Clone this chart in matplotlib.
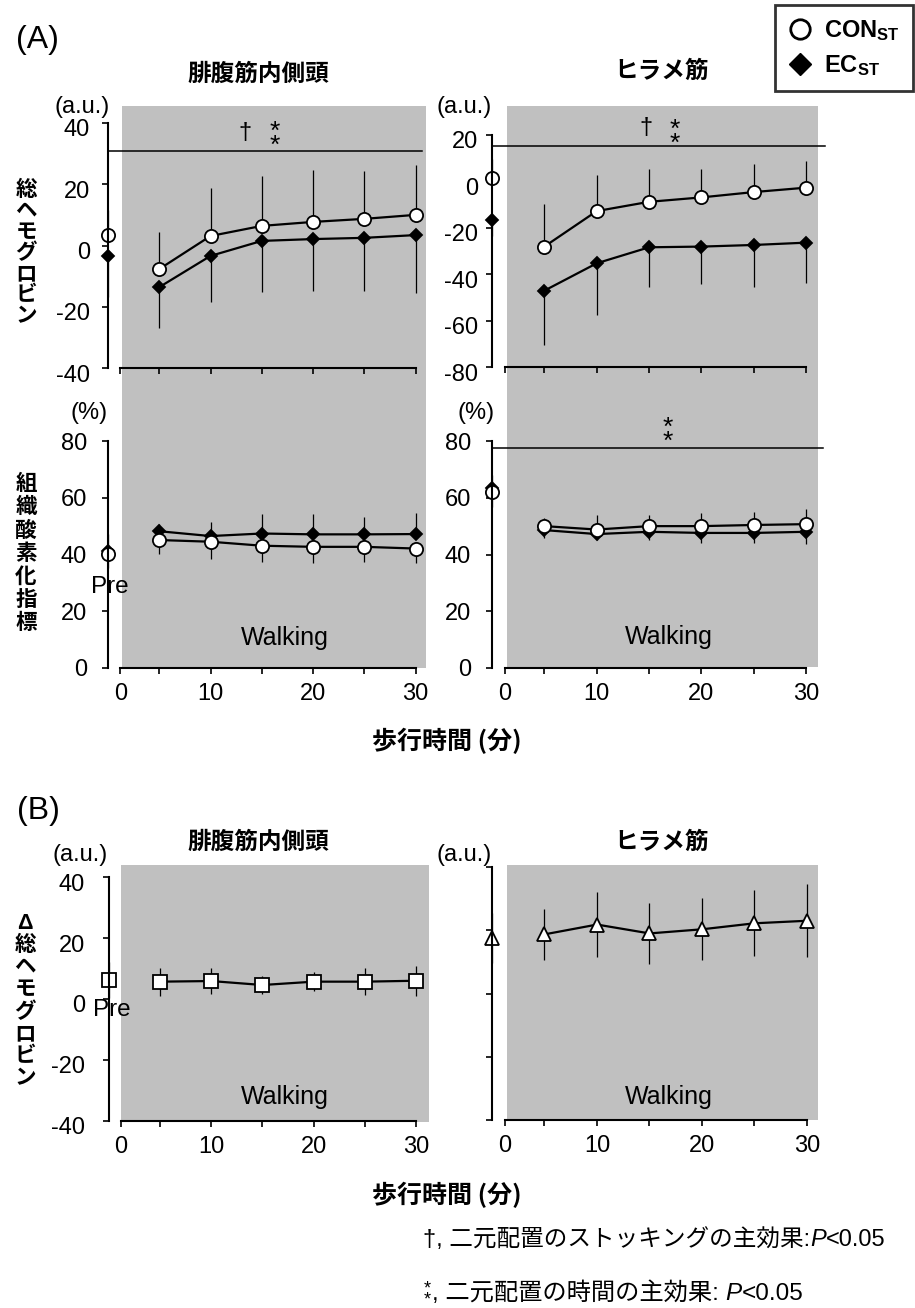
import numpy as np
import matplotlib
matplotlib.use('Agg')
import matplotlib.pyplot as plt
from matplotlib.patches import Rectangle
from matplotlib.lines import Line2D
import matplotlib.transforms as mtransforms

plt.rcParams['font.family'] = ['Liberation Sans', 'Noto Sans CJK JP', 'DejaVu Sans']
plt.rcParams['mathtext.fontset'] = 'custom'
plt.rcParams['mathtext.rm'] = 'Liberation Sans'
plt.rcParams['mathtext.bf'] = 'Liberation Sans:bold'
plt.rcParams['mathtext.it'] = 'Liberation Sans:italic'
plt.rcParams['axes.unicode_minus'] = False

# ---------------- data ----------------
times = [5, 10, 15, 20, 25, 30]
x_label_times = [10, 20, 30]
muscles = ['腓腹筋内側頭', 'ヒラメ筋']
groups = ['CON', 'EC']

# (A) total hemoglobin (a.u.) - gastrocnemius medialis
thb_gm_con_pre, thb_gm_con_pre_sd = 3.4, 8.2
thb_gm_ec_pre, thb_gm_ec_pre_sd = -3.4, 13.4
thb_gm_con = [-7.7, 3.1, 6.4, 7.7, 8.7, 10.0]
thb_gm_con_sd = [12.1, 15.7, 16.3, 17.0, 15.6, 16.3]
thb_gm_ec = [-13.6, -3.4, 1.5, 2.1, 2.5, 3.4]
thb_gm_ec_sd = [13.4, 15.1, 16.7, 17.0, 17.4, 18.9]

# (A) total hemoglobin (a.u.) - soleus
thb_sol_con_pre, thb_sol_con_pre_sd = 1.6, 8.0
thb_sol_ec_pre, thb_sol_ec_pre_sd = -16.6, 7.0
thb_sol_con = [-28.1, -12.8, -8.8, -6.9, -4.6, -2.7]
thb_sol_con_sd = [18.4, 15.6, 14.0, 12.1, 12.0, 11.5]
thb_sol_ec = [-47.1, -35.3, -28.4, -28.1, -27.4, -26.4]
thb_sol_ec_sd = [23.4, 22.3, 17.2, 16.1, 18.0, 17.5]

# (A) tissue oxygenation index (%) - gastrocnemius medialis
toi_gm_con_pre, toi_gm_con_pre_sd = 40.1, 5.0
toi_gm_ec_pre, toi_gm_ec_pre_sd = 41.2, 6.0
toi_gm_con = [45.1, 44.5, 43.1, 42.7, 42.7, 42.1]
toi_gm_con_sd = [5.0, 6.1, 5.7, 5.6, 5.3, 5.0]
toi_gm_ec = [48.2, 46.5, 47.4, 47.1, 47.1, 47.2]
toi_gm_ec_sd = [2.5, 4.8, 7.0, 7.0, 6.2, 7.3]

# (A) tissue oxygenation index (%) - soleus
toi_sol_con_pre, toi_sol_con_pre_sd = 62.1, 6.0
toi_sol_ec_pre, toi_sol_ec_pre_sd = 63.3, 6.4
toi_sol_con = [50.0, 48.8, 50.0, 50.0, 50.4, 50.7]
toi_sol_con_sd = [2.7, 5.0, 3.9, 4.5, 4.6, 5.2]
toi_sol_ec = [48.6, 47.2, 48.0, 47.6, 47.6, 48.0]
toi_sol_ec_sd = [2.9, 2.1, 2.9, 3.7, 3.7, 4.3]

# (B) delta total hemoglobin (a.u.)
dthb_gm_pre, dthb_gm_pre_sd = 6.2, 6.0
dthb_gm = [5.7, 5.9, 4.6, 5.7, 5.7, 6.0]
dthb_gm_sd = [4.6, 4.2, 3.0, 3.2, 4.4, 5.0]
dthb_sol_pre, dthb_sol_pre_sd = 17.5, 7.9
dthb_sol = [18.7, 21.8, 19.0, 20.3, 22.2, 23.0]
dthb_sol_sd = [8.0, 10.2, 9.7, 9.8, 10.5, 11.6]

# significance bar levels
sig_thb_gm = 30.9
sig_thb_sol = 15.3
sig_toi_sol = 77.4

# axis ticks
yt_thb_gm = [-40, -20, 0, 20, 40]
yt_thb_sol = [-80, -60, -40, -20, 0, 20]
yt_toi = [0, 20, 40, 60, 80]
yt_dthb = [-40, -20, 0, 20, 40]

# ---------------- layout ----------------
W, H = 915, 1308
fig = plt.figure(figsize=(W / 100, H / 100), dpi=100)

def fx(px):
    return px / W

def fy(py):
    return 1 - py / H

XLIM = (-3.0, 33.0)
PRE_X = 0.0
WALK0 = 1.2
TICK_FS = 17
GRAY = '#c0c0c0'
CJK = ['Noto Sans CJK JP', 'DejaVu Sans']

def make_ax(x0, xs, ylim, yticks, py_bottom, py_top, ylabels=True, xlabels=True,
            ypad=7, ylab_shift=0):
    left = x0 + XLIM[0] * xs
    width = (XLIM[1] - XLIM[0]) * xs
    ax = fig.add_axes([fx(left), fy(py_bottom), width / W, (py_bottom - py_top) / H])
    ax.set_xlim(*XLIM)
    ax.set_ylim(*ylim)
    ax.patch.set_visible(False)
    for s in ('top', 'right'):
        ax.spines[s].set_visible(False)
    ax.spines['left'].set_position(('data', PRE_X))
    ax.spines['bottom'].set_bounds(WALK0, times[-1])
    for s in ('left', 'bottom'):
        ax.spines[s].set_linewidth(1.5)
    ax.set_yticks(yticks, labels=[str(v) for v in yticks] if ylabels else [])
    xt = [WALK0] + times
    if xlabels:
        xl = ['0'] + [str(t) if t in x_label_times else '' for t in times]
    else:
        xl = [''] * len(xt)
    ax.set_xticks(xt, labels=xl)
    ax.tick_params(axis='both', direction='out', length=4, width=1.2,
                   labelsize=TICK_FS, colors='black')
    ax.tick_params(axis='y', pad=ypad)
    ax.tick_params(axis='x', pad=7)
    if ylab_shift:
        off = mtransforms.ScaledTranslation(0, -ylab_shift / 100, fig.dpi_scale_trans)
        for lab in ax.get_yticklabels():
            lab.set_transform(lab.get_transform() + off)
    return ax

def gray(ax, x_a, x_b, py_top, py_bottom):
    tr = mtransforms.blended_transform_factory(ax.transData, fig.transFigure)
    r = Rectangle((x_a, fy(py_bottom)), x_b - x_a, (py_bottom - py_top) / H,
                  transform=tr, facecolor=GRAY, edgecolor='none', zorder=-5)
    fig.add_artist(r)

def series(ax, x, y, sd, up, marker, ms, face, line=True):
    z = np.zeros(len(sd))
    err = [z, sd] if up else [sd, z]
    ax.errorbar(x, y, yerr=err, fmt=marker + ('-' if line else ''), ms=ms,
                mfc=face, mec='black', mew=1.3, color='black', lw=1.6,
                ecolor='black', elinewidth=0.9, capsize=0, clip_on=False)

def con(ax, pre, pre_sd, vals, sds, up):
    series(ax, [PRE_X], [pre], [pre_sd], up, 'o', 9.5, 'white', line=False)
    series(ax, times, vals, sds, up, 'o', 9.5, 'white')

def ec(ax, pre, pre_sd, vals, sds, up):
    series(ax, [PRE_X], [pre], [pre_sd], up, 'D', 6.5, 'black', line=False)
    series(ax, times, vals, sds, up, 'D', 6.5, 'black')

def sig_line(ax, level, x_end):
    ax.plot([PRE_X, x_end], [level, level], color='black', lw=1.1, clip_on=False)

def ftext(xpx, ypx, s, **kw):
    return fig.text(fx(xpx), fy(ypx), s, **kw)

def stars_px(xpx, ymid_px, fs=19, ls=0.5):
    # two stacked asterisks, centred on ymid_px
    em = fs * 100 / 72
    ftext(xpx, ymid_px + 0.3 * em, '*\n*', fontsize=fs, ha='center', va='center',
          linespacing=ls)

# column geometry
L_X0, L_XS = 108, 10.25
R_X0, R_XS = 492, 10.47

# ---- (A) total Hb
ax1 = make_ax(L_X0, L_XS, (-40, 40), yt_thb_gm, 368, 123, xlabels=False,
              ypad=9, ylab_shift=5)
ax2 = make_ax(R_X0, R_XS, (-80, 20), yt_thb_sol, 367, 135, xlabels=False,
              ypad=6, ylab_shift=5)
# ---- (A) TOI
ax3 = make_ax(L_X0, L_XS, (0, 80), yt_toi, 668, 441, ypad=11)
ax4 = make_ax(R_X0, R_XS, (0, 80), yt_toi, 668, 441, ypad=11)
# ---- (B)
ax5 = make_ax(L_X0 + 0.7, L_XS, (-40, 40), yt_dthb, 1120.7, 877.3, ypad=13,
              ylab_shift=5)
ax6 = make_ax(R_X0, 10.5, (-40, 40), yt_dthb, 1120, 867, ylabels=False)

gray(ax1, 1.4, 31.0, 106, 668)
gray(ax2, 1.45, 31.1, 106, 667)
gray(ax5, 1.2, 31.2, 865, 1122)
gray(ax6, 1.45, 31.0, 865, 1120)

ec(ax1, thb_gm_ec_pre, thb_gm_ec_pre_sd, thb_gm_ec, thb_gm_ec_sd, up=False)
con(ax1, thb_gm_con_pre, thb_gm_con_pre_sd, thb_gm_con, thb_gm_con_sd, up=True)
sig_line(ax1, sig_thb_gm, 30.6)

ec(ax2, thb_sol_ec_pre, thb_sol_ec_pre_sd, thb_sol_ec, thb_sol_ec_sd, up=False)
con(ax2, thb_sol_con_pre, thb_sol_con_pre_sd, thb_sol_con, thb_sol_con_sd, up=True)
sig_line(ax2, sig_thb_sol, 31.8)

ec(ax3, toi_gm_ec_pre, toi_gm_ec_pre_sd, toi_gm_ec, toi_gm_ec_sd, up=True)
con(ax3, toi_gm_con_pre, toi_gm_con_pre_sd, toi_gm_con, toi_gm_con_sd, up=False)

ec(ax4, toi_sol_ec_pre, toi_sol_ec_pre_sd, toi_sol_ec, toi_sol_ec_sd, up=False)
con(ax4, toi_sol_con_pre, toi_sol_con_pre_sd, toi_sol_con, toi_sol_con_sd, up=True)
sig_line(ax4, sig_toi_sol, 31.6)

for ax, pre, pre_sd, vals, sds, mk, ms in (
        (ax5, dthb_gm_pre, dthb_gm_pre_sd, dthb_gm, dthb_gm_sd, 's', 9.5),
        (ax6, dthb_sol_pre, dthb_sol_pre_sd, dthb_sol, dthb_sol_sd, '^', 10.5)):
    ax.errorbar([PRE_X], [pre], yerr=[pre_sd], fmt=mk, ms=ms, mfc='white', mec='black',
                mew=1.3, ecolor='black', elinewidth=0.9, capsize=0, clip_on=False)
    ax.errorbar(times, vals, yerr=sds, fmt=mk + '-', ms=ms, mfc='white', mec='black',
                mew=1.3, color='black', lw=1.6, ecolor='black', elinewidth=0.9,
                capsize=0, clip_on=False)

# significance marks
ftext(245, 133, '†', fontsize=17, ha='center', va='center')
stars_px(275, 131)
ftext(646, 128, '†', fontsize=17, ha='center', va='center')
stars_px(675, 129)
stars_px(668, 427)

# ---------------- texts ----------------
ftext(37, 40, '(A)', fontsize=23, ha='center', va='center')
ftext(38, 811, '(B)', fontsize=23, ha='center', va='center')

for ypx in (74, 842):
    ftext(258, ypx, muscles[0], fontsize=17, fontweight='bold', family=CJK,
          ha='center', va='center')
    ftext(662, ypx - 3 if ypx == 74 else ypx, muscles[1], fontsize=17, fontweight='bold',
          family=CJK, ha='center', va='center')

for xpx, ypx, s in ((82, 107, '(a.u.)'), (464, 107, '(a.u.)'),
                    (89, 413, '(%)'), (476, 413, '(%)'),
                    (80, 855, '(a.u.)'), (464, 855, '(a.u.)')):
    ftext(xpx, ypx, s, fontsize=17, ha='center', va='center')

ftext(26, 253, '\n'.join('総ヘモグロビン'), fontsize=15.5, fontweight='bold', family=CJK,
      ha='center', va='center', linespacing=1.0)
ftext(26, 553, '\n'.join('組織酸素化指標'), fontsize=15.5, fontweight='bold', family=CJK,
      ha='center', va='center', linespacing=1.12)
ftext(25, 1001, '\n'.join('Δ総ヘモグロビン'), fontsize=15.5, fontweight='bold',
      family=['Liberation Sans', 'Noto Sans CJK JP'], ha='center', va='center',
      linespacing=1.08)

for xpx, ypx in ((285, 638), (669, 637), (285, 1097), (669, 1097)):
    ftext(xpx, ypx, 'Walking', fontsize=18, ha='center', va='center')
ftext(110, 587, 'Pre', fontsize=17.5, ha='center', va='center')
ftext(112, 1010, 'Pre', fontsize=17.5, ha='center', va='center')

for ypx in (741, 1195):
    ftext(447, ypx, '歩行時間 (分)', fontsize=18, fontweight='bold', family=CJK,
          ha='center', va='center')

# legend
handles = [Line2D([], [], marker='o', ms=14, mfc='white', mec='black', mew=2, ls='none'),
           Line2D([], [], marker='D', ms=11, color='black', ls='none')]
labels = [r'$\mathbf{CON_{ST}}$', r'$\mathbf{EC_{ST}}$']
leg = fig.legend(handles, labels, loc='upper right', bbox_to_anchor=(fx(913), fy(5)),
                 frameon=True, fancybox=False, edgecolor='black', fontsize=17,
                 handlelength=1.0, handletextpad=0.55, borderpad=0.55, labelspacing=0.45,
                 borderaxespad=0)
leg.get_frame().set_linewidth(2)

# footnotes
renderer = fig.canvas.get_renderer()

def chain(x0px, ypx, pieces, fs=17):
    x = x0px
    for s, kw in pieces:
        t = ftext(x, ypx, s, fontsize=fs, va='baseline', ha='left', **kw)
        x += t.get_window_extent(renderer).width

chain(423, 1246, [('†, 二元配置のストッキングの主効果:', {}),
                  ('P', {'style': 'italic'}), ('<0.05', {})])
stars_px(427, 1289, fs=13, ls=0.5)
chain(432, 1300, [(', 二元配置の時間の主効果: ', {}),
                  ('P', {'style': 'italic'}), ('<0.05', {})], fs=17.5)

fig.savefig('out.png', dpi=100)
